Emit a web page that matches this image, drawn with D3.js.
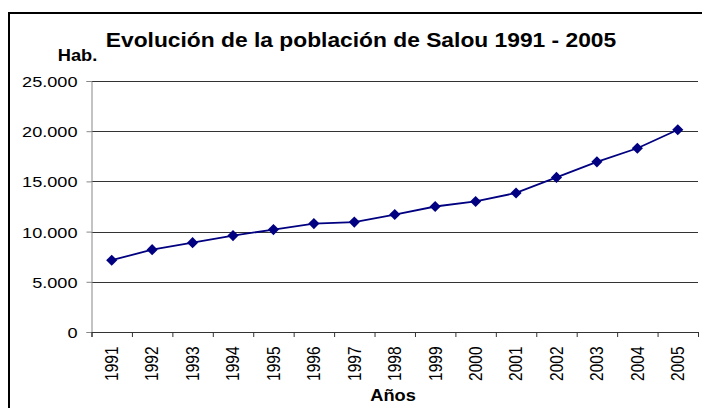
<!DOCTYPE html>
<html>
<head>
<meta charset="utf-8">
<script src="https://cdn.jsdelivr.net/npm/d3@7"></script>
<style>
  body { margin: 0; background: #fff; }
  svg text { font-family: "Liberation Sans", Arial, sans-serif; fill: #000; }
</style>
</head>
<body>
<svg width="702" height="408"></svg>
<script>
var years = ["1991", "1992", "1993", "1994", "1995", "1996", "1997", "1998",
             "1999", "2000", "2001", "2002", "2003", "2004", "2005"];
var habitantes = [7150, 8200, 8900, 9600, 10200, 10800, 10950, 11700,
                  12500, 13000, 13850, 15400, 16950, 18300, 20150];
var yTicks = [0, 5000, 10000, 15000, 20000, 25000];

var svg = d3.select("svg"),
    width = +svg.attr("width"),
    height = +svg.attr("height");

// text in the picture is a bit wider than tall
var stretch = 1.17;

var plotLeft = 91.5, plotRight = 698, plotTop = 81, plotBottom = 332;

var x = d3.scaleBand().domain(years).range([plotLeft, plotRight]);
var xEdge = d3.scaleLinear().domain([0, years.length]).range([plotLeft, plotRight]);
var y = d3.scaleLinear().domain([0, 25000]).range([plotBottom, plotTop]);

var fmt = d3.formatLocale({ decimal: ",", thousands: ".", grouping: [3], currency: ["", ""] }).format(",");

// outer frame (cut off on right and bottom)
svg.append("rect")
    .attr("x", 9).attr("y", 13)
    .attr("width", 720).attr("height", 420)
    .attr("fill", "none")
    .attr("stroke", "#000")
    .attr("stroke-width", 2);

// gridlines
svg.append("g")
    .selectAll("line")
    .data(yTicks.filter(function(d) { return d > 0; }))
    .enter().append("line")
    .attr("x1", plotLeft).attr("x2", plotRight)
    .attr("y1", function(d) { return Math.round(y(d)) + 0.5; })
    .attr("y2", function(d) { return Math.round(y(d)) + 0.5; })
    .attr("stroke", "#333")
    .attr("stroke-width", 1);

// y axis
var gy = svg.append("g")
    .attr("transform", "translate(" + plotLeft + ",0)")
    .call(d3.axisLeft(y).tickValues(yTicks).tickSize(5).tickFormat(fmt));
gy.select(".domain").attr("stroke", "#888");
gy.selectAll(".tick line").attr("stroke", "#888");
gy.selectAll(".tick text")
    .attr("x", 0)
    .attr("dy", "0.36em")
    .attr("font-size", 15.5)
    .attr("text-anchor", "end")
    .attr("transform", "translate(-14,0) scale(" + stretch + ",1)");

// x axis: ticks between categories
var gxe = svg.append("g")
    .attr("transform", "translate(0," + plotBottom + ")")
    .call(d3.axisBottom(xEdge).tickValues(d3.range(years.length + 1)).tickSize(5).tickFormat(""));
gxe.select(".domain").attr("stroke", "#333");
gxe.selectAll(".tick line").attr("stroke", "#333");

// x labels, rotated
var gx = svg.append("g")
    .attr("transform", "translate(0," + plotBottom + ")")
    .call(d3.axisBottom(x).tickSize(0));
gx.select(".domain").remove();
gx.selectAll(".tick text")
    .attr("x", 0).attr("y", 0)
    .attr("dy", "0.35em")
    .attr("font-size", 15.5)
    .attr("text-anchor", "end")
    .attr("transform", "translate(0,14.5) scale(" + stretch + ",1) rotate(-90)");

// line
var line = d3.line()
    .x(function(d, i) { return x(years[i]) + x.bandwidth() / 2; })
    .y(function(d) { return y(d); });

svg.append("path")
    .datum(habitantes)
    .attr("d", line)
    .attr("fill", "none")
    .attr("stroke", "#000080")
    .attr("stroke-width", 1.8);

// diamond markers
var diamond = d3.symbol().type(d3.symbolSquare).size(62);
svg.append("g")
    .selectAll("path")
    .data(habitantes)
    .enter().append("path")
    .attr("d", diamond)
    .attr("fill", "#000080")
    .attr("transform", function(d, i) {
        return "translate(" + (x(years[i]) + x.bandwidth() / 2) + "," + y(d) + ") rotate(45)";
    });

// titles
svg.append("text")
    .attr("text-anchor", "middle")
    .attr("font-size", 20)
    .attr("font-weight", "bold")
    .attr("transform", "translate(361,47) scale(1.14,1)")
    .text("Evolución de la población de Salou 1991 - 2005");

svg.append("text")
    .attr("text-anchor", "middle")
    .attr("font-size", 16)
    .attr("font-weight", "bold")
    .attr("transform", "translate(77.5,61) scale(1.14,1)")
    .text("Hab.");

svg.append("text")
    .attr("text-anchor", "middle")
    .attr("font-size", 16)
    .attr("font-weight", "bold")
    .attr("transform", "translate(393,401) scale(1.14,1)")
    .text("Años");
</script>
</body>
</html>
